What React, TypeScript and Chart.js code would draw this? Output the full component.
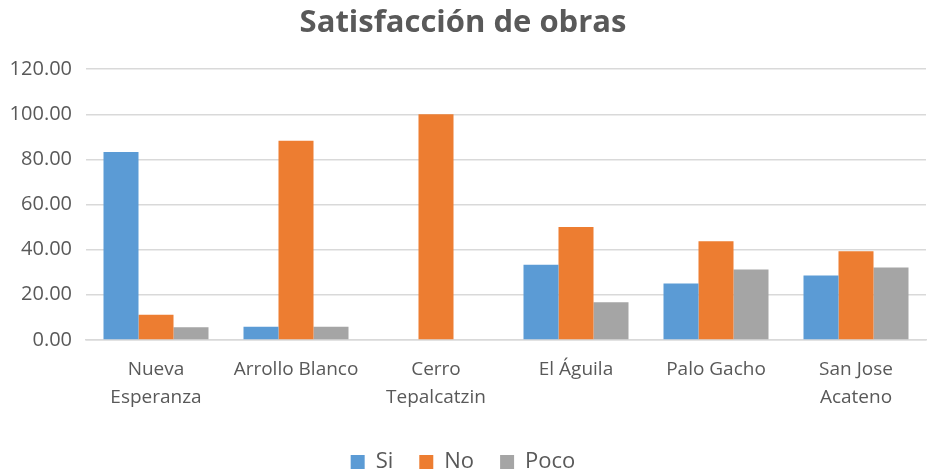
import React, { useEffect, useRef } from "react";
import { Chart, registerables } from "chart.js";

Chart.register(...registerables);

const categories: string[][] = [
  ["Nueva", "Esperanza"],
  ["Arrollo Blanco"],
  ["Cerro", "Tepalcatzin"],
  ["El Águila"],
  ["Palo Gacho"],
  ["San Jose", "Acateno"],
];
const siValues = [83.33, 5.88, 0, 33.33, 25.0, 28.57];
const noValues = [11.11, 88.24, 100.0, 50.0, 43.75, 39.29];
const pocoValues = [5.56, 5.88, 0, 16.67, 31.25, 32.14];
const yTicks = [0, 20, 40, 60, 80, 100, 120];

// Shrinks the legend's layout box so its row sits lower, without clipping it.
const legendShift = {
  id: "legendShift",
  beforeLayout(chart: any) {
    const lg: any = chart.legend;
    if (lg && !lg._shiftPatched) {
      const origFit = lg.fit.bind(lg);
      lg.fit = function () {
        origFit();
        this.height -= 13;
      };
      lg.draw = function () {
        if (this.options.display) this._draw();
      };
      lg._shiftPatched = true;
    }
  },
};

export default function App() {
  const ref = useRef<HTMLCanvasElement>(null);
  useEffect(() => {
    if (!ref.current) return;
    const font = "'Open Sans', 'Noto Sans', sans-serif";
    const chart = new Chart(ref.current, {
      type: "bar",
      data: {
        labels: categories,
        datasets: [
          { label: "Si", data: siValues, backgroundColor: "#5b9bd5" },
          { label: "No", data: noValues, backgroundColor: "#ed7d31" },
          { label: "Poco", data: pocoValues, backgroundColor: "#a5a5a5" },
        ],
      },
      plugins: [legendShift],
      options: {
        animation: false,
        responsive: true,
        maintainAspectRatio: false,
        layout: { padding: { left: 0, right: 6, top: 0, bottom: 0 } },
        datasets: { bar: { categoryPercentage: 0.75, barPercentage: 1.0 } },
        plugins: {
          title: {
            display: true,
            text: "Satisfacción de obras",
            color: "#595959",
            font: { family: font, size: 31, weight: "bold" },
            padding: { top: 5, bottom: 27 },
          },
          legend: {
            position: "bottom",
            labels: {
              color: "#595959",
              font: { family: font, size: 22 },
              boxWidth: 14,
              boxHeight: 14,
              padding: 26,
            },
          },
          tooltip: { enabled: false },
        },
        scales: {
          x: {
            grid: { display: false },
            border: { color: "#d9d9d9", width: 1.5 },
            afterFit: (scale: any) => {
              scale.height += 6;
            },
            ticks: {
              color: "#595959",
              font: { family: font, size: 19, lineHeight: 1.45 },
              maxRotation: 0,
              autoSkip: false,
              padding: 8,
            },
          },
          y: {
            min: 0,
            max: 120,
            afterBuildTicks: (axis: any) => {
              axis.ticks = yTicks.map((v) => ({ value: v }));
            },
            afterFit: (scale: any) => {
              scale.width = 86;
            },
            grid: { color: "#d9d9d9", lineWidth: 1.5, drawTicks: false },
            border: { display: false },
            ticks: {
              color: "#595959",
              font: { family: font, size: 20 },
              padding: 14,
              callback: (v: any) => Number(v).toFixed(2),
            },
          },
        },
      },
    });
    return () => chart.destroy();
  }, []);
  return (
    <div style={{ position: "fixed", left: 0, top: 0, width: 932, height: 470, background: "#fff" }}>
      <canvas ref={ref} />
    </div>
  );
}
